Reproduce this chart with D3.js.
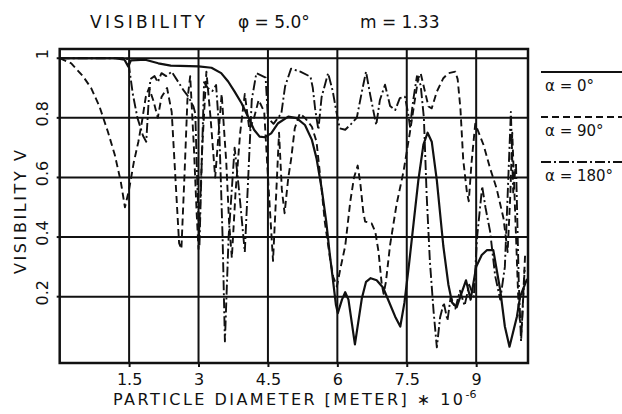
<!DOCTYPE html>
<meta charset="utf-8">
<style>
body { margin: 0; background: #fff; }
svg { font-family: "DejaVu Sans", sans-serif; }
.grid line { stroke: #111; stroke-width: 2; }
.frame { fill: none; stroke: #111; stroke-width: 2.5; }
.curve { fill: none; stroke: #111; stroke-linejoin: round; }
.lbl { fill: #111; }
.axis path { display: none; }
.axis line { stroke: #111; stroke-width: 2; }
.axis text { font-size: 16px; fill: #111; font-family: "DejaVu Sans", sans-serif; }
</style>
<body>
<svg id="chart" width="622" height="414"></svg>
<script src="https://cdnjs.cloudflare.com/ajax/libs/d3/7.8.5/d3.min.js"></script>
<script>
// values (diameter in 1e-6 m, visibility V)
var xTicks = [1.5, 3, 4.5, 6, 7.5, 9];
var yTicks = [0.2, 0.4, 0.6, 0.8, 1];
var legendLabels = ["α = 0°", "α = 90°", "α = 180°"];

var alpha0 = [[0,1.0],[1.2,1.0],[1.4,0.995],[1.48,0.972],[1.54,0.993],[1.85,0.995],[2.13,0.983],[2.4,0.975],
  [3.0,0.973],[3.28,0.968],[3.49,0.95],[3.64,0.922],[3.78,0.888],[3.93,0.849],[4.07,0.804],[4.2,0.76],
  [4.32,0.737],[4.43,0.735],[4.57,0.748],[4.72,0.782],[4.94,0.804],[5.12,0.799],[5.3,0.776],[5.45,0.726],
  [5.55,0.664],[5.66,0.564],[5.76,0.452],[5.83,0.351],[5.9,0.262],[5.97,0.172],[6.01,0.145],[6.1,0.19],
  [6.17,0.215],[6.24,0.19],[6.38,0.04],[6.53,0.195],[6.62,0.25],[6.72,0.262],[6.85,0.255],[6.99,0.23],
  [7.1,0.189],[7.25,0.133],[7.36,0.1],[7.45,0.18],[7.55,0.31],[7.65,0.45],[7.75,0.59],[7.86,0.71],
  [7.95,0.75],[8.04,0.72],[8.15,0.59],[8.29,0.37],[8.4,0.24],[8.48,0.18],[8.58,0.165],[8.68,0.21],
  [8.78,0.255],[8.88,0.19],[9.0,0.3],[9.12,0.34],[9.23,0.356],[9.37,0.356],[9.52,0.222],[9.62,0.1],
  [9.72,0.032],[9.88,0.133],[9.95,0.2],[10.1,0.26]];

var alpha90 = [[0,1.0],[0.25,0.983],[0.5,0.94],[0.68,0.9],[0.86,0.838],[1.04,0.754],[1.19,0.676],[1.32,0.586],
  [1.41,0.5],[1.5,0.56],[1.6,0.65],[1.7,0.72],[1.78,0.79],[1.86,0.87],[1.93,0.9],[2.02,0.86],[2.12,0.8],
  [2.2,0.87],[2.32,0.9],[2.42,0.82],[2.5,0.6],[2.58,0.38],[2.63,0.36],[2.7,0.62],[2.76,0.86],[2.82,0.94],
  [2.9,0.7],[2.96,0.48],[3.0,0.36],[3.08,0.7],[3.17,0.955],[3.26,0.8],[3.36,0.6],[3.42,0.72],[3.5,0.88],
  [3.6,0.65],[3.66,0.45],[3.72,0.33],[3.8,0.55],[3.9,0.75],[4.0,0.88],[4.1,0.76],[4.2,0.8],[4.3,0.86],
  [4.42,0.82],[4.52,0.55],[4.61,0.32],[4.68,0.55],[4.74,0.75],[4.8,0.56],[4.86,0.48],[4.94,0.6],[5.0,0.66],
  [5.08,0.765],[5.19,0.815],[5.3,0.8],[5.45,0.77],[5.55,0.72],[5.66,0.56],[5.73,0.45],[5.85,0.32],
  [5.91,0.267],[5.99,0.234],[6.06,0.29],[6.17,0.37],[6.28,0.52],[6.36,0.6],[6.44,0.64],[6.5,0.575],
  [6.56,0.485],[6.6,0.452],[6.74,0.446],[6.82,0.418],[6.89,0.351],[6.96,0.24],[7.0,0.21],[7.05,0.25],
  [7.14,0.374],[7.28,0.51],[7.43,0.62],[7.57,0.753],[7.68,0.865],[7.75,0.933],[7.8,0.95],[7.86,0.91],
  [7.97,0.838],[8.04,0.832],[8.15,0.888],[8.29,0.933],[8.4,0.95],[8.55,0.955],[8.6,0.93],[8.66,0.83],
  [8.72,0.66],[8.8,0.55],[8.84,0.52],[8.9,0.65],[8.98,0.78],[9.16,0.709],[9.3,0.631],[9.44,0.564],
  [9.59,0.463],[9.68,0.35],[9.74,0.55],[9.78,0.75],[9.85,0.45],[9.92,0.15],[9.98,0.08],[10.06,0.35]];

var alpha180 = [[0,1.0],[1.45,1.0],[1.5,0.97],[1.58,0.88],[1.68,0.8],[1.8,0.74],[1.87,0.72],[1.92,0.85],
  [1.96,0.93],[2.05,0.94],[2.12,0.92],[2.2,0.95],[2.3,0.94],[2.42,0.955],[2.56,0.921],[2.67,0.894],
  [2.78,0.871],[2.89,0.838],[2.93,0.815],[2.98,0.55],[3.02,0.37],[3.06,0.6],[3.12,0.92],[3.2,0.9],
  [3.3,0.89],[3.38,0.91],[3.45,0.75],[3.52,0.4],[3.57,0.05],[3.65,0.4],[3.78,0.7],[3.88,0.55],[4.0,0.35],
  [4.08,0.62],[4.15,0.86],[4.25,0.95],[4.45,0.935],[4.5,0.8],[4.62,0.78],[4.79,0.815],[4.87,0.905],
  [5.0,0.965],[5.2,0.955],[5.42,0.938],[5.47,0.9],[5.52,0.83],[5.59,0.76],[5.66,0.87],[5.8,0.95],
  [5.9,0.89],[5.98,0.82],[6.05,0.765],[6.17,0.76],[6.3,0.78],[6.42,0.8],[6.53,0.888],[6.62,0.955],
  [6.71,0.877],[6.84,0.776],[6.92,0.86],[7.03,0.911],[7.14,0.84],[7.25,0.826],[7.35,0.866],[7.46,0.871],
  [7.53,0.815],[7.57,0.77],[7.64,0.86],[7.72,0.94],[7.8,0.91],[7.87,0.8],[7.93,0.541],[8.0,0.318],
  [8.08,0.15],[8.15,0.03],[8.22,0.13],[8.3,0.18],[8.38,0.12],[8.45,0.2],[8.55,0.16],[8.65,0.22],
  [8.75,0.17],[8.85,0.24],[8.95,0.2],[9.02,0.4],[9.13,0.57],[9.2,0.5],[9.3,0.42],[9.41,0.27],[9.52,0.19],
  [9.62,0.3],[9.7,0.62],[9.75,0.82],[9.8,0.55],[9.86,0.65],[9.92,0.25],[9.97,0.05],[10.05,0.3]];

var series = [
  {data: alpha0, dash: null, w: 2.2},
  {data: alpha90, dash: "7,4", w: 1.9},
  {data: alpha180, dash: "10,3,2,3", w: 1.9}
];

var svg = d3.select("#chart");
var mLeft = 59.7, mRight = 528, mTop = 49, mBottom = 363;

var x = d3.scaleLinear().domain([0, 10.12]).range([mLeft, mRight]);
var y = d3.scaleLinear().domain([-0.0225, 1.031]).range([mBottom, mTop]);

svg.append("defs").append("clipPath").attr("id", "clip")
  .append("rect").attr("x", mLeft).attr("y", mTop).attr("width", mRight - mLeft).attr("height", mBottom - mTop);

// grid
var grid = svg.append("g").attr("class", "grid");
grid.selectAll(".v").data(xTicks).enter().append("line")
  .attr("x1", d => x(d)).attr("x2", d => x(d)).attr("y1", mTop).attr("y2", mBottom);
grid.selectAll(".h").data(yTicks).enter().append("line")
  .attr("x1", mLeft).attr("x2", mRight).attr("y1", d => y(d)).attr("y2", d => y(d));

// curves
var line = d3.line().x(d => x(d[0])).y(d => y(d[1]));
svg.append("g").attr("clip-path", "url(#clip)").selectAll("path").data(series).enter().append("path")
  .attr("class", "curve")
  .attr("d", d => line(d.data))
  .attr("stroke-width", d => d.w)
  .attr("stroke-dasharray", d => d.dash);

svg.append("rect").attr("class", "frame")
  .attr("x", mLeft).attr("y", mTop).attr("width", mRight - mLeft).attr("height", mBottom - mTop);

// axes
svg.append("g").attr("class", "axis").attr("transform", "translate(0," + mBottom + ")")
  .call(d3.axisBottom(x).tickValues(xTicks).tickSize(4).tickPadding(7).tickFormat(d => String(d)));

var yAxis = svg.append("g").attr("class", "axis").attr("transform", "translate(" + mLeft + ",0)")
  .call(d3.axisLeft(y).tickValues(yTicks).tickSize(3).tickFormat(d => String(d)));
yAxis.selectAll(".tick").attr("transform", null);
yAxis.selectAll(".tick line").attr("y1", d => y(d)).attr("y2", d => y(d));
yAxis.selectAll("text")
  .attr("x", null).attr("dy", null).attr("y", null)
  .attr("transform", d => "translate(-12," + (y(d) - 4) + ") rotate(-90)")
  .attr("text-anchor", "middle");

// titles
var title = svg.append("text").attr("class", "lbl").attr("y", 28).style("font-size", "17px");
title.append("tspan").attr("x", 90).attr("textLength", 115).text("VISIBILITY");
title.append("tspan").attr("x", 238).text("φ = 5.0°");
title.append("tspan").attr("x", 360).text("m = 1.33");

svg.append("text").attr("class", "lbl")
  .attr("transform", "translate(26,212) rotate(-90)")
  .attr("text-anchor", "middle").style("font-size", "16px")
  .attr("textLength", 124).text("VISIBILITY V");

var xt = svg.append("text").attr("class", "lbl").attr("x", 113).attr("y", 405).style("font-size", "16px");
xt.append("tspan").attr("textLength", 350).text("PARTICLE DIAMETER [METER] ∗ 10");
xt.append("tspan").attr("dy", -7).style("font-size", "11px").text("-6");

// legend
var lg = svg.append("g");
var lgY = [72, 117, 162];
lg.selectAll("line").data(series).enter().append("line")
  .attr("x1", 541).attr("x2", 622)
  .attr("y1", (d, i) => lgY[i]).attr("y2", (d, i) => lgY[i])
  .attr("stroke", "#111").attr("stroke-width", 1.8)
  .attr("stroke-dasharray", d => d.dash);
lg.selectAll("text").data(legendLabels).enter().append("text")
  .attr("class", "lbl").attr("x", 545).attr("y", (d, i) => lgY[i] + 19)
  .style("font-size", "15px").text(d => d);
</script>
</body>
